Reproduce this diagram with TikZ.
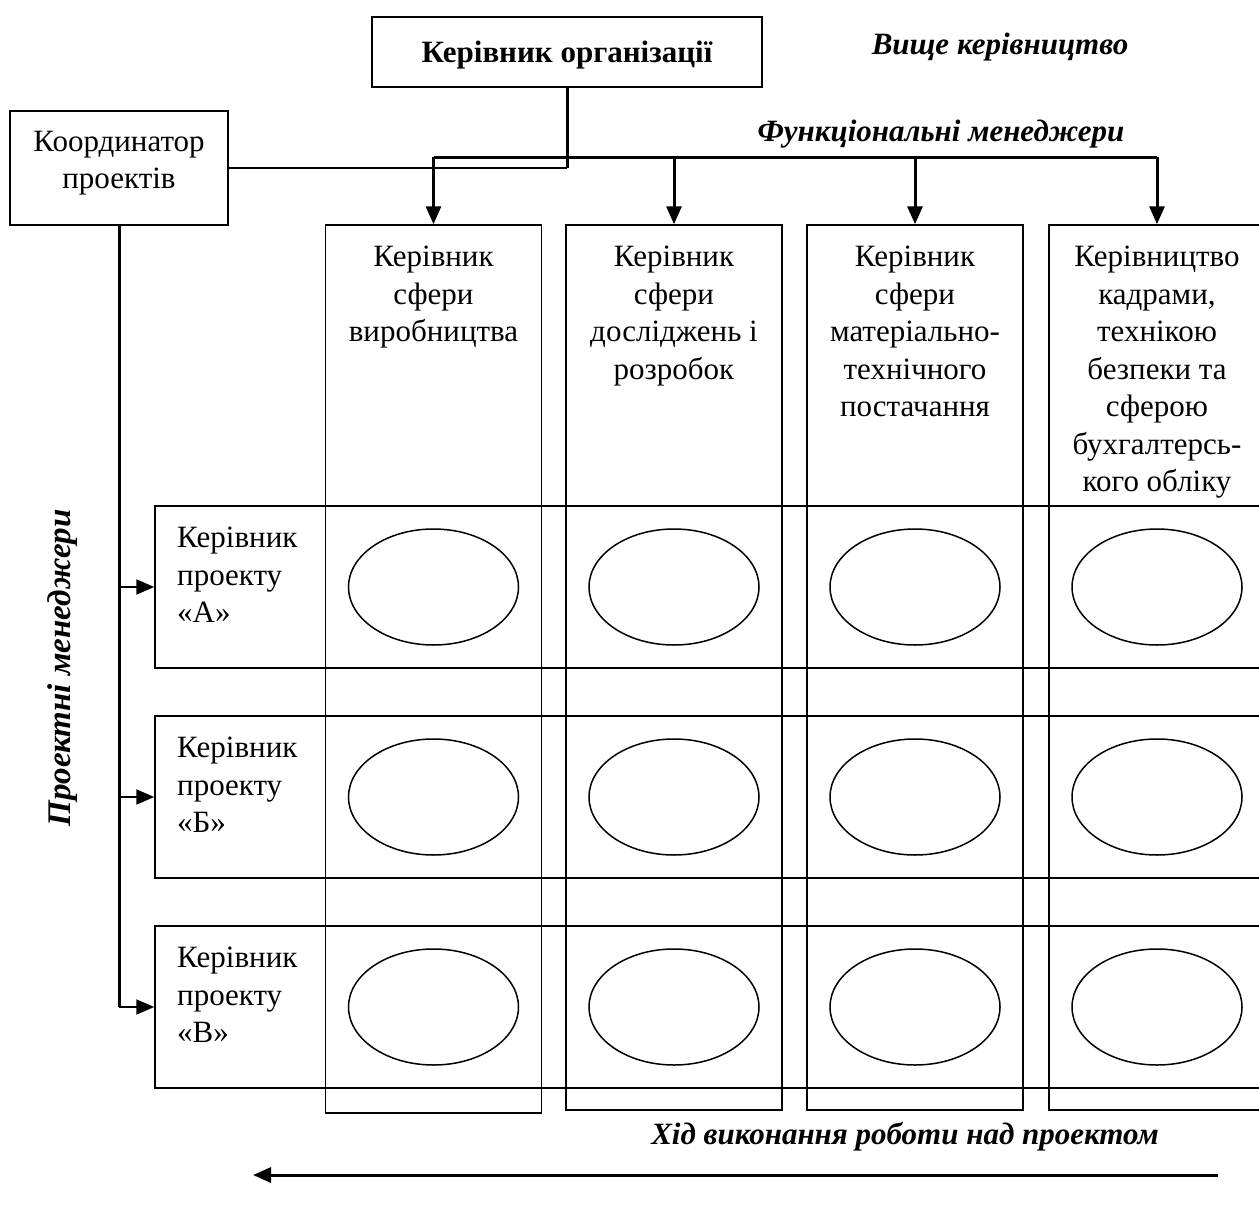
\documentclass[tikz,border=0pt]{standalone}
\usepackage{fontspec}
\setmainfont{Liberation Serif}
\usetikzlibrary{arrows.meta,shapes.geometric}
\begin{document}
\begin{tikzpicture}[x=1pt,y=-1pt,
  font=\fontsize{31}{37.5}\selectfont,
  box/.style={draw, line width=1.5pt, inner sep=0pt},
  colbox/.style={box, minimum width=216pt, minimum height=888pt},
  rowbox/.style={box, minimum width=1115pt, minimum height=162pt},
  oval/.style={draw, ellipse, line width=1.5pt, minimum width=170pt, minimum height=116pt, inner sep=0pt},
  thickline/.style={line width=3pt},
  thinline/.style={line width=2pt},
  arr/.style={-{Triangle[length=18pt,width=15pt]}},
  lbl/.style={inner sep=0pt, align=center},
  bi/.style={font=\fontsize{31}{37.5}\selectfont\bfseries\itshape, inner sep=0pt}]
\useasboundingbox (0,0) rectangle (1259,1207);
\clip (0,0) rectangle (1259,1207);

% top boxes
\node[box, minimum width=390pt, minimum height=70pt] (top) at (567,52) {};
\node[inner sep=0pt, font=\fontsize{31}{37.5}\selectfont\bfseries] (toptext) at (567,55) {Керівник організації};
\node[box, minimum width=218pt, minimum height=114pt] (coord) at (119,168) {};
\node[lbl] (coordtext) at (119,163) {Координатор\\проектів};

% labels
\node[bi] (upper) at (1000,47) {Вище керівництво};
\node[bi] (func) at (941,134) {Функціональні менеджери};
\node[bi, rotate=90, font=\fontsize{33}{37.5}\selectfont\bfseries\itshape] (proj) at (63,668) {Проектні менеджери};
\node[bi] (flow) at (905,1137) {Хід виконання роботи над проектом};

% columns
\node[colbox] (c1) at (433.5,669) {};
\node[colbox, minimum height=885pt] (c2) at (674,667.5) {};
\node[colbox, minimum height=885pt] (c3) at (915,667.5) {};
\node[colbox, minimum height=885pt] (c4) at (1157,667.5) {};

\node[lbl, anchor=north] (t1) at (433.5,246) {Керівник\\сфери\\виробництва};
\node[lbl, anchor=north] (t2) at (674,246) {Керівник\\сфери\\досліджень і\\розробок};
\node[lbl, anchor=north] (t3) at (915,246) {Керівник\\сфери\\матеріально-\\технічного\\постачання};
\node[lbl, anchor=north] (t4) at (1157,246) {Керівництво\\кадрами,\\технікою\\безпеки та\\сферою\\бухгалтерсь-\\кого обліку};

% rows
\node[rowbox] (rA) at (712.5,587) {};
\node[rowbox] (rB) at (712.5,797) {};
\node[rowbox] (rC) at (712.5,1007) {};

\node[inner sep=0pt, align=left, anchor=north west] (lA) at (177,527) {Керівник\\проекту\\«А»};
\node[inner sep=0pt, align=left, anchor=north west] (lB) at (177,737) {Керівник\\проекту\\«Б»};
\node[inner sep=0pt, align=left, anchor=north west] (lC) at (177,947) {Керівник\\проекту\\«В»};

% ellipses
\foreach \r in {A,B,C}{
  \foreach \c in {1,2,3,4}{
    \node[oval] (e\r\c) at (c\c |- r\r) {};
  }
}

% connectors from top
\coordinate (bus) at (0,157);
\coordinate (cl) at (0,168);
\draw[thinline] (coord.east) -- (top.south |- coord.east);
\draw[thickline] (top.south) -- (top.south |- cl);
\draw[thickline] (c1.north |- bus) -- (c4.north |- bus);
\foreach \c in {1,2,3,4}{
  \draw[thickline, arr] (c\c.north |- bus) -- (c\c.north);
}

% left connectors
\draw[thickline] (coord.south) -- (coord.south |- rC.west);
\foreach \r in {A,B,C}{
  \draw[thinline, arr] (coord.south |- r\r.west) -- (r\r.west);
}

% bottom flow arrow
\coordinate (fstart) at (1218,1175);
\coordinate (fend) at (253,1175);
\draw[thickline, arr] (fstart) -- (fend);
\end{tikzpicture}
\end{document}
